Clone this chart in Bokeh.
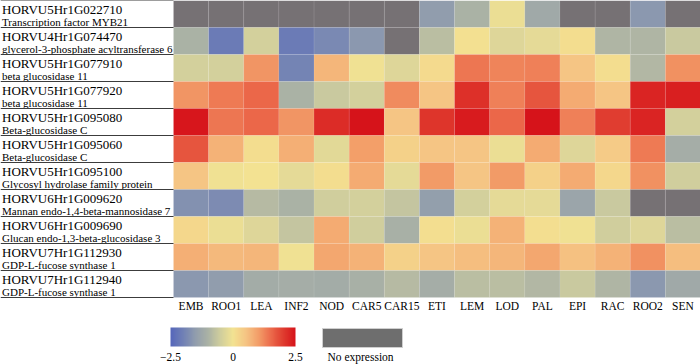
import numpy as np
from bokeh.plotting import figure
from bokeh.models import ColumnDataSource, LinearColorMapper, ColorBar, FixedTicker, Range1d
from bokeh.transform import transform
from bokeh.core.properties import value
from bokeh.embed import file_html
from bokeh.resources import INLINE

NA = float("nan")

tissues = ["EMB", "ROO1", "LEA", "INF2", "NOD", "CAR5", "CAR15", "ETI",
           "LEM", "LOD", "PAL", "EPI", "RAC", "ROO2", "SEN"]

genes = ["HORVU5Hr1G022710", "HORVU4Hr1G074470", "HORVU5Hr1G077910",
         "HORVU5Hr1G077920", "HORVU5Hr1G095080", "HORVU5Hr1G095060",
         "HORVU5Hr1G095100", "HORVU6Hr1G009620", "HORVU6Hr1G009690",
         "HORVU7Hr1G112930", "HORVU7Hr1G112940"]

descriptions = ["Transcription factor MYB21",
                "glycerol-3-phosphate acyltransferase 6",
                "beta glucosidase 11",
                "beta glucosidase 11",
                "Beta-glucosidase C",
                "Beta-glucosidase C",
                "Glycosyl hydrolase family protein",
                "Mannan endo-1,4-beta-mannosidase 7",
                "Glucan endo-1,3-beta-glucosidase 3",
                "GDP-L-fucose synthase 1",
                "GDP-L-fucose synthase 1"]

# log-scaled expression per gene, in tissue order (NaN = no expression)
expr_022710 = [NA, NA, NA, NA, NA, NA, NA, -1.5, -1.0, -0.1, -1.2, NA, NA, -1.6, NA]
expr_074470 = [-1.0, -2.1, -0.45, -2.1, -1.85, -1.6, NA, -0.8, 0.05, -0.3, -0.2, 0.1, -0.95, -0.95, -0.6]
expr_077910 = [-0.45, -0.45, 1.1, -1.95, 0.7, -0.05, -0.3, 0.15, 1.4, 1.25, 1.3, 0.5, 0.1, -0.9, 1.15]
expr_077920 = [1.1, 1.35, 1.55, -1.0, -0.6, -0.45, 1.2, 0.5, 2.15, 1.3, 1.75, 0.85, 0.5, 2.3, 2.35]
expr_095080 = [2.45, 1.4, 1.55, 1.1, 2.2, 2.5, 0.5, 2.1, 2.4, 1.55, 2.5, 1.3, 2.0, 2.3, -0.45]
expr_095060 = [1.75, 0.75, 0.1, 0.8, -0.25, 1.0, 0.3, 0.5, 0.5, -0.1, 0.85, -0.3, 0.4, 1.35, -1.1]
expr_095100 = [0.5, -0.05, 0.0, -0.2, 0.1, 0.85, -0.2, 1.05, 0.5, 1.05, 0.3, 0.85, 0.2, 1.15, -0.5]
expr_009620 = [-1.7, -1.8, -0.85, -1.0, -0.5, -0.45, -0.65, -1.45, -0.45, -0.2, -0.2, -1.3, -0.6, NA, NA]
expr_009690 = [0.2, -0.1, -0.3, -0.65, 0.85, -0.5, -1.05, 0.08, -0.1, 0.75, 0.08, -0.05, -0.5, -0.3, -0.8]
expr_112930 = [0.8, 0.65, 0.7, -0.05, 0.9, 0.75, 0.3, 0.5, 0.6, 0.7, 0.9, 0.55, 0.75, 1.15, 0.6]
expr_112940 = [-1.6, -1.5, -1.15, -1.1, -1.15, -1.05, -0.85, -1.1, -0.8, -0.8, -0.9, -0.6, -0.95, -1.6, -1.2]

expression = [expr_022710, expr_074470, expr_077910, expr_077920, expr_095080,
              expr_095060, expr_095100, expr_009620, expr_009690, expr_112930,
              expr_112940]

scale_ticks = [-2.5, 0, 2.5]
scale_labels = ["\u22122.5", "0", "2.5"]

# ---------------- colour palette (style) ----------------
anchors = [(-2.5, "#5566bb"), (-2.0, "#7181b5"), (-1.5, "#919dad"),
           (-1.0, "#abb2a5"), (-0.5, "#d0ce9d"), (0.0, "#f3e392"),
           (0.5, "#f5c584"), (1.0, "#f3a06a"), (1.5, "#ec6c4c"),
           (2.0, "#e03e30"), (2.5, "#d6131a")]
av = np.array([a[0] for a in anchors])
ac = np.array([[int(c[i:i + 2], 16) for i in (1, 3, 5)] for _, c in anchors], float)
grid_v = np.linspace(-2.5, 2.5, 256)
palette = ["#%02x%02x%02x" % tuple(int(round(np.interp(v, av, ac[:, k]))) for k in range(3))
           for v in grid_v]
mapper = LinearColorMapper(palette=palette, low=-2.5, high=2.5, nan_color="#767174")

# ---------------- layout (style) ----------------
W, H = 700, 364
n_cols, n_rows = len(tissues), len(genes)
heat_left = 173
col_px = (W - heat_left) / n_cols
row_px = 27
label_units = heat_left / col_px
y_top = n_rows
y_bottom = y_top - H / row_px

FONT = value("Liberation Serif")
INK = "#000000"

p = figure(width=W, height=H, x_range=Range1d(-label_units, n_cols),
           y_range=Range1d(y_bottom, y_top), output_backend="svg",
           toolbar_location=None, x_axis_location=None, y_axis_location=None,
           min_border=0, outline_line_color=None)
p.grid.visible = False
p.background_fill_color = "white"
p.border_fill_color = "white"

xs, ys, vals = [], [], []
for gi, row in enumerate(expression):
    for ti, v in enumerate(row):
        xs.append(ti + 0.5)
        ys.append(n_rows - 1 - gi + 0.5)
        vals.append(v)
src = ColumnDataSource(dict(x=xs, y=ys, v=np.array(vals, dtype=float)))
p.rect(x="x", y="y", width=1, height=1, source=src,
       fill_color=transform("v", mapper), line_color="white", line_alpha=0.15,
       line_width=0.5)

# gene labels
gy = [n_rows - 1 - gi for gi in range(n_rows)]
lx = -label_units + 1.5 / col_px
p.text(x=[lx] * n_rows, y=[g + 1 - 8.6 / row_px for g in gy], text=genes,
       text_font=FONT, text_font_size="13px", text_color=INK,
       text_align="left", text_baseline="alphabetic")
p.text(x=[lx] * n_rows, y=[g + 1 - 21.6 / row_px for g in gy], text=descriptions,
       text_font=FONT, text_font_size="11px", text_color=INK,
       text_align="left", text_baseline="alphabetic")

# separator lines in label area
p.segment(x0=[-label_units] * (n_rows + 1), x1=[0] * (n_rows + 1),
          y0=list(range(n_rows + 1)), y1=list(range(n_rows + 1)),
          line_color="#3c3c3c", line_width=1.2)

# tissue labels
p.text(x=[i + 0.5 for i in range(n_cols)], y=[-8.5 / row_px] * n_cols, text=tissues,
       text_font=FONT, text_font_size="11.5px", text_color=INK,
       text_align="center", text_baseline="alphabetic")

# colour bar
cb = ColorBar(color_mapper=mapper, orientation="horizontal", location=(170, 1),
              width=125, height=19, padding=0, ticker=FixedTicker(ticks=scale_ticks),
              major_label_overrides=dict(zip(scale_ticks, scale_labels)),
              major_label_text_font="Liberation Serif", major_label_text_font_size="11.5px",
              major_label_text_color=INK, major_tick_line_color=None,
              minor_tick_line_color=None, bar_line_color=None,
              background_fill_alpha=0, border_line_color=None, label_standoff=6)
p.add_layout(cb)

# "No expression" key
kx0, kx1 = (322 - heat_left) / col_px, (402 - heat_left) / col_px
ky0, ky1 = -31 / row_px, -50 / row_px
p.rect(x=[(kx0 + kx1) / 2], y=[(ky0 + ky1) / 2], width=kx1 - kx0,
       height=ky0 - ky1, fill_color="#6e6e6e", line_color="#cfcfcf", line_width=1)
p.text(x=[(327 - heat_left) / col_px], y=[-59.5 / row_px], text=["No expression"],
       text_font=FONT, text_font_size="11.5px", text_color=INK, text_align="left",
       text_baseline="alphabetic")

open("out.html", "w").write(file_html(p, INLINE))
